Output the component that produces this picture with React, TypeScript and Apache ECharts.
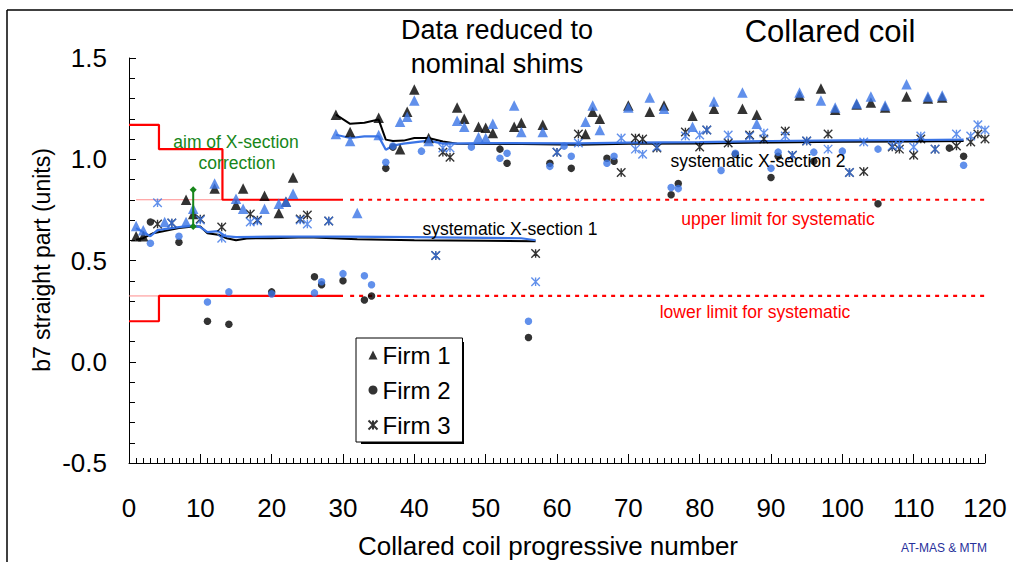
import React, { useEffect, useRef } from "react";
import * as echarts from "echarts";

// ---------- data ----------
const firm1Coils = [1, 2, 5, 8, 9, 12, 15, 16, 19, 21, 22, 23, 29, 31, 32, 35, 38, 39, 40, 42, 46, 47, 49, 50, 51, 54, 55, 58, 64, 65, 66, 70, 73, 75, 79, 82, 86, 88, 94, 97, 99, 102, 104, 106, 109, 112, 114];
const firm1Raw = [0.62, 0.62, null, 0.8, 0.73, 0.855, 0.775, 0.855, 0.82, 0.735, 0.79, 0.91, 1.22, 1.135, null, 1.205, 1.05, 1.235, 1.345, 1.105, 1.255, 1.2, 1.16, 1.155, 1.13, 1.16, 1.18, 1.17, 1.125, 1.235, 1.2, 1.265, 1.235, 1.265, 1.215, 1.25, 1.25, 1.22, 1.315, 1.35, 1.245, 1.27, 1.28, 1.255, 1.31, 1.3, 1.305];
const firm1Reduced = [0.67, 0.65, 0.69, 0.69, 0.755, 0.88, 0.805, 0.755, 0.755, 0.78, 0.79, 0.83, 1.125, 1.09, 0.735, 1.12, 1.185, 1.21, 1.29, 1.09, 1.19, 1.16, 1.11, 1.105, 1.175, 1.265, 1.135, 1.135, 1.185, 1.265, 1.145, 1.255, 1.305, 1.25, 1.16, 1.285, 1.33, 1.175, 1.33, 1.29, 1.255, 1.275, 1.31, 1.265, 1.37, 1.31, 1.315];

const firm2Coils = [3, 7, 11, 14, 20, 26, 27, 30, 33, 34, 36, 37, 41, 48, 52, 53, 56, 59, 61, 62, 67, 68, 76, 77, 83, 85, 90, 91, 96, 100, 105, 115, 117];
const firm2Raw = [0.69, 0.59, 0.2, 0.185, 0.345, 0.42, 0.38, 0.4, 0.305, 0.325, 0.955, 1.06, null, null, 1.05, 0.98, 0.12, 0.98, null, 0.955, 1.005, 0.99, 0.825, 0.88, null, 1.025, 0.91, 1.015, 0.99, null, 0.78, 1.055, 1.015];
const firm2Reduced = [0.585, 0.62, 0.295, 0.345, 0.335, 0.34, 0.395, 0.435, 0.425, 0.38, 0.985, 1.065, 1.04, 1.06, 1.005, 1.03, 0.2, 0.965, 1.065, 1.015, 0.98, 1.015, 0.86, 0.855, 0.945, 1.03, 0.955, 1.035, 1.035, 1.04, 1.05, null, 0.97];

const firm3Coils = [4, 6, 10, 13, 17, 18, 24, 25, 28, 43, 44, 45, 57, 60, 63, 69, 71, 72, 74, 78, 80, 81, 84, 87, 89, 92, 93, 95, 98, 101, 103, 107, 108, 110, 111, 113, 116, 118, 119, 120];
const firm3Raw = [0.68, 0.685, 0.705, 0.665, 0.73, 0.7, 0.705, 0.725, 0.695, 0.525, 1.035, 1.01, 0.535, 1.035, 1.125, 0.935, 1.105, 1.1, 1.055, 1.135, 1.06, 1.145, 1.08, 1.12, 1.1, 1.14, 1.02, 1.09, 1.125, 0.935, 0.94, 1.06, 1.05, 1.02, 1.1, 1.05, 1.065, 1.085, 1.125, 1.1];
const firm3Reduced = [0.785, 0.685, 0.7, 0.61, 0.69, 0.695, 0.7, 0.68, 0.695, 0.525, 1.055, 1.055, 0.395, 1.035, 1.08, 1.105, 1.05, 1.025, 1.06, 1.115, 1.12, 1.145, 1.12, 1.115, 1.13, 1.115, 1.02, 1.09, 1.05, 0.935, 1.085, 1.065, 1.07, 1.06, 1.115, 1.05, 1.125, 1.115, 1.17, 1.145];

// systematic (running average) lines
const sys1RawX = [1, 2, 3.4, 7, 9, 10, 11, 12.5, 13.7, 15, 16.5, 20, 25, 32, 40, 50, 57];
const sys1RawY = [0.602, 0.61, 0.635, 0.66, 0.668, 0.668, 0.635, 0.627, 0.61, 0.6, 0.609, 0.61, 0.615, 0.605, 0.6, 0.598, 0.595];
const sys1RedX = [1, 2, 3, 4, 7, 9, 10, 11, 12.5, 13.5, 15, 20, 30, 40, 50, 55, 57];
const sys1RedY = [0.66, 0.64, 0.62, 0.65, 0.665, 0.672, 0.665, 0.64, 0.645, 0.62, 0.615, 0.618, 0.618, 0.615, 0.612, 0.61, 0.6];
const sys2RawX = [29, 31, 33, 35, 36, 37, 38.5, 40, 42, 44, 46, 55, 63, 70, 80, 90, 100, 110, 117];
const sys2RawY = [1.22, 1.175, 1.18, 1.196, 1.097, 1.09, 1.092, 1.105, 1.105, 1.088, 1.077, 1.075, 1.072, 1.076, 1.078, 1.083, 1.086, 1.088, 1.09];
const sys2RedX = [29, 31, 33, 35, 36, 37, 38.5, 42, 44, 50, 63, 70, 80, 90, 100, 110, 117];
const sys2RedY = [1.121, 1.105, 1.113, 1.113, 1.047, 1.067, 1.077, 1.092, 1.077, 1.08, 1.078, 1.082, 1.085, 1.09, 1.093, 1.095, 1.097];

// limits
const upperLimitX = [0, 4.2, 4.2, 13.1, 13.1, 30];
const upperLimitY = [1.17, 1.17, 1.05, 1.05, 0.8, 0.8];
const lowerLimitX = [0, 4.2, 4.2, 30];
const lowerLimitY = [0.2, 0.2, 0.325, 0.325];
const upperDashedX = [31, 120];
const upperDashedY = [0.8, 0.8];
const lowerDashedX = [31, 120];
const lowerDashedY = [0.325, 0.325];
const upperThinX = [1, 13.1];
const upperThinY = [0.8, 0.8];
const lowerThinX = [0, 4.2];
const lowerThinY = [0.325, 0.325];
const aimX = [9, 9];
const aimY = [0.85, 0.668];

const xTicks = { min: 0, max: 120, interval: 10 };
const yTicks = { min: -0.5, max: 1.5, interval: 0.5 };

// ---------- helpers ----------
const FONT = "'Liberation Sans', Arial, sans-serif";
const BLUE = "#3a74e6";
const RED = "#ff0000";
const GREEN = "#17861a";
const ASTERISK = "path://M0 0L10 10M10 0L0 10M5 0L5 10";

const pts = (xs: number[], ys: (number | null)[]) =>
  xs.map((x, i) => (ys[i] == null ? null : [x, ys[i]])).filter((p) => p !== null);

const lineSeries = (name: string, xs: number[], ys: number[], color: string, width: number, extra: any = {}) => ({
  name,
  type: "line",
  data: pts(xs, ys),
  symbol: "none",
  lineStyle: { color, width, ...(extra.lineStyle || {}) },
  z: extra.z ?? 2,
  silent: true,
});

const scatter = (name: string, xs: number[], ys: (number | null)[], symbol: string, size: number, color: string, z: number) => {
  const isStar = symbol === ASTERISK;
  return {
    name,
    type: "scatter",
    data: pts(xs, ys),
    symbol,
    symbolSize: size,
    itemStyle: isStar
      ? { color: "none", borderColor: color, borderWidth: 1.4 }
      : { color, borderWidth: 0 },
    z,
  };
};

export default function App() {
  const ref = useRef<HTMLDivElement>(null);

  useEffect(() => {
    if (!ref.current) return;
    const chart = echarts.init(ref.current, null, { renderer: "svg" });

    const text = (t: string, x: number, y: number, size: number, color = "#000", align = "center", extra: any = {}) => ({
      type: "text",
      x,
      y,
      z: 10,
      ...extra,
      style: { text: t, fill: color, font: `${size}px ${FONT}`, align, verticalAlign: "middle" },
    });

    const option: any = {
      animation: false,
      backgroundColor: "#fff",
      grid: { left: 129, right: 28, top: 58, bottom: 99 },
      xAxis: {
        type: "value",
        min: xTicks.min,
        max: xTicks.max,
        interval: xTicks.interval,
        axisLine: { show: true, onZero: false, lineStyle: { color: "#000", width: 1 } },
        axisTick: { show: true, inside: true, length: 9, lineStyle: { color: "#000", width: 1 } },
        minorTick: { show: true, splitNumber: 10, length: 5, lineStyle: { color: "#000", width: 1 } },
        axisLabel: { margin: 32, fontSize: 26, color: "#000", fontFamily: FONT },
        splitLine: { show: false },
      },
      yAxis: {
        type: "value",
        min: yTicks.min,
        max: yTicks.max,
        interval: yTicks.interval,
        axisLine: { show: true, onZero: false, lineStyle: { color: "#000", width: 1 } },
        axisTick: { show: true, inside: true, length: 7, lineStyle: { color: "#000", width: 1 } },
        minorTick: { show: true, splitNumber: 5, length: 6, lineStyle: { color: "#000", width: 1 } },
        axisLabel: { margin: 22, fontSize: 26, color: "#000", fontFamily: FONT, formatter: (v: number) => v.toFixed(1) },
        splitLine: { show: false },
      },
      legend: {
        data: ["Firm 1", "Firm 2", "Firm 3"],
        orient: "vertical",
        left: 356,
        top: 338,
        padding: [5, 12, 5, 10],
        itemWidth: 9,
        itemHeight: 9,
        itemGap: 11,
        backgroundColor: "#fff",
        borderColor: "#000",
        borderWidth: 1,
        borderRadius: 0,
        z: 20,
        textStyle: { fontSize: 24, lineHeight: 24, color: "#000", fontFamily: FONT },
      },
      series: [
        lineSeries("upper limit thin", upperThinX, upperThinY, "#ff8c8c", 1),
        lineSeries("lower limit thin", lowerThinX, lowerThinY, "#ff8c8c", 1),
        lineSeries("upper limit", upperLimitX, upperLimitY, RED, 2.2),
        lineSeries("lower limit", lowerLimitX, lowerLimitY, RED, 2.2),
        lineSeries("upper limit for systematic", upperDashedX, upperDashedY, RED, 2.2, { lineStyle: { type: [4, 5] } }),
        lineSeries("lower limit for systematic", lowerDashedX, lowerDashedY, RED, 2.2, { lineStyle: { type: [4, 5] } }),
        lineSeries("systematic 1 raw", sys1RawX, sys1RawY, "#000", 2),
        lineSeries("systematic 1 reduced", sys1RedX, sys1RedY, BLUE, 2.2, { z: 3 }),
        lineSeries("systematic 2 raw", sys2RawX, sys2RawY, "#000", 2),
        lineSeries("systematic 2 reduced", sys2RedX, sys2RedY, BLUE, 2.2, { z: 3 }),
        {
          name: "aim",
          type: "line",
          data: pts(aimX, aimY),
          symbol: "diamond",
          symbolSize: 7,
          itemStyle: { color: GREEN },
          lineStyle: { color: GREEN, width: 2 },
          z: 6,
          silent: true,
        },
        scatter("Firm 1", firm1Coils, firm1Raw, "triangle", 10.5, "#000", 4),
        scatter("Firm 2", firm2Coils, firm2Raw, "circle", 7.5, "#000", 4),
        scatter("Firm 3", firm3Coils, firm3Raw, ASTERISK, 8.5, "#000", 4),
        scatter("Firm 1 reduced", firm1Coils, firm1Reduced, "triangle", 10.5, BLUE, 5),
        scatter("Firm 2 reduced", firm2Coils, firm2Reduced, "circle", 7.5, BLUE, 5),
        scatter("Firm 3 reduced", firm3Coils, firm3Reduced, ASTERISK, 8.5, BLUE, 5),
      ],
      graphic: [
        { type: "line", shape: { x1: 7, y1: 10, x2: 1013, y2: 10 }, style: { stroke: "#000", lineWidth: 1.5 }, z: 1 },
        { type: "line", shape: { x1: 7, y1: 10, x2: 7, y2: 562 }, style: { stroke: "#000", lineWidth: 1.5 }, z: 1 },
        { type: "rect", shape: { x: 361, y: 342, width: 103, height: 102 }, style: { fill: "#000" }, z: 1 },
        text("Data reduced to", 497, 30, 27),
        text("nominal shims", 497, 64, 27),
        text("Collared coil", 830, 31, 31),
        text("aim of X-section", 236, 142, 17.5, GREEN),
        text("correction", 237, 163, 17.5, GREEN),
        text("systematic X-section 1", 510, 229, 17.5),
        text("systematic X-section 2", 758, 161, 17.5),
        text("upper limit for systematic", 778, 219, 17.5, RED),
        text("lower limit for systematic", 755, 312, 17.5, RED),
        text("Collared coil progressive number", 548, 546, 26),
        text("b7 straight part (units)", 42, 260, 23, "#000", "center", { rotation: Math.PI / 2 }),
        text("AT-MAS & MTM", 944, 548, 12, "#27309b"),
      ],
    };

    chart.setOption(option);
    return () => chart.dispose();
  }, []);

  return (
    <div
      ref={ref}
      style={{ position: "fixed", left: 0, top: 0, width: 1013, height: 562, background: "#fff" }}
    />
  );
}
